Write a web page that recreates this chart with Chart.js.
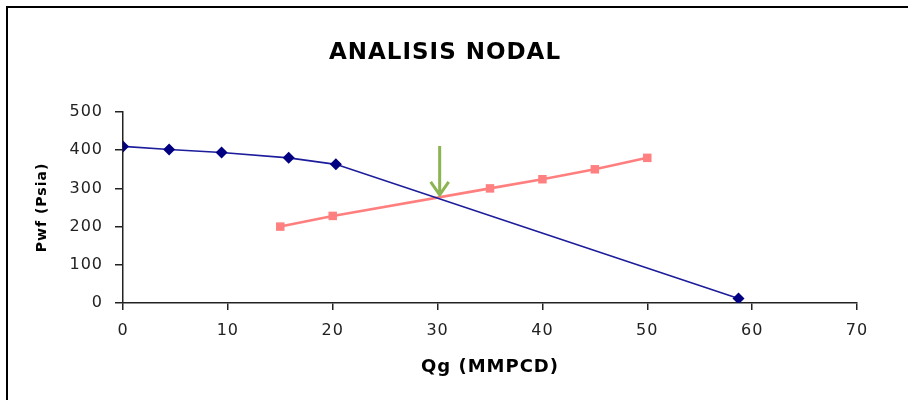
<!DOCTYPE html>
<html>
<head>
<meta charset="utf-8">
<script src="https://cdn.jsdelivr.net/npm/chart.js@4.4.0/dist/chart.umd.min.js"></script>
<style>
    html, body { margin: 0; padding: 0; background: #fff; }
    #wrap { position: relative; width: 908px; height: 400px; }
    #frame {
        position: absolute; left: 6px; top: 6px; right: -4px; bottom: -4px;
        border-top: 2px solid #000; border-left: 2px solid #000;
    }
    canvas { position: absolute; left: 0; top: 0; }
</style>
</head>
<body>
<div id="wrap">
    <div id="frame"></div>
    <canvas id="chart" width="908" height="400"></canvas>
</div>
<script>
// Curva IPR (pozo) - Qg en MMPCD, Pwf en psia
const iprQg  = [0, 4.4, 9.4, 15.8, 20.3, 58.7];
const iprPwf = [410, 402, 394, 380, 363, 12];

// Curva de la tuberia (outflow)
const tprQg  = [15, 20, 35, 40, 45, 50];
const tprPwf = [200, 228, 300, 324, 350, 380];

// Flecha que marca el punto de operacion
const arrowQg = 30.2;
const arrowPwfTop = 411;
const arrowPwfTip = 283;

const xTicks = [0, 10, 20, 30, 40, 50, 60, 70];
const yTicks = [0, 100, 200, 300, 400, 500];

const FONT = 'DejaVu Sans';

const toPoints = (xs, ys) => xs.map((x, i) => ({ x: x, y: ys[i] }));

// The old Excel picture has wide lettering, a little spacing helps
const spacingPlugin = {
    id: 'letterSpacing',
    beforeDraw(chart) { chart.ctx.letterSpacing = '1px'; },
    afterDraw(chart) { chart.ctx.letterSpacing = '0px'; }
};

// Draws the green arrow over the intersection, using the chart scales
const arrowPlugin = {
    id: 'operatingArrow',
    afterDatasetsDraw(chart) {
        const { ctx, scales } = chart;
        const x = scales.x.getPixelForValue(arrowQg);
        const y0 = scales.y.getPixelForValue(arrowPwfTop);
        const y1 = scales.y.getPixelForValue(arrowPwfTip);
        ctx.save();
        ctx.strokeStyle = '#8db353';
        ctx.lineWidth = 3;
        ctx.lineCap = 'butt';
        ctx.beginPath();
        ctx.moveTo(x, y0);
        ctx.lineTo(x, y1);
        ctx.moveTo(x - 9, y1 - 13);
        ctx.lineTo(x, y1);
        ctx.lineTo(x + 9, y1 - 13);
        ctx.stroke();
        ctx.restore();
    }
};

new Chart(document.getElementById('chart'), {
    type: 'scatter',
    data: {
        datasets: [
            {
                label: 'IPR',
                data: toPoints(iprQg, iprPwf),
                showLine: true,
                borderColor: '#1c1c9c',
                borderWidth: 1.6,
                pointStyle: 'rectRot',
                pointRadius: 6,
                pointBackgroundColor: '#000080',
                pointBorderColor: '#000080',
                pointBorderWidth: 0,
                tension: 0
            },
            {
                label: 'TPR',
                data: toPoints(tprQg, tprPwf),
                showLine: true,
                borderColor: '#ff7f7f',
                borderWidth: 2.6,
                pointStyle: 'rect',
                pointRadius: 6,
                pointBackgroundColor: '#ff8080',
                pointBorderColor: '#ff8080',
                pointBorderWidth: 0,
                tension: 0
            }
        ]
    },
    options: {
        responsive: false,
        animation: false,
        layout: { padding: { left: 0, right: 18, top: 0, bottom: 0 } },
        plugins: {
            legend: { display: false },
            tooltip: { enabled: false },
            title: {
                display: true,
                text: 'ANALISIS NODAL',
                color: '#000',
                font: { family: FONT, size: 23, weight: 'bold' },
                padding: { top: 39, bottom: 45.4 }
            }
        },
        scales: {
            x: {
                type: 'linear',
                min: 0,
                max: 70,
                afterBuildTicks: (scale) => { scale.ticks = xTicks.map(v => ({ value: v })); },
                afterFit: (scale) => { scale.height = 97; },
                grid: { drawOnChartArea: false, drawTicks: true, tickLength: 7, color: '#222', lineWidth: 1.5 },
                border: { display: true, color: '#222', width: 1.5 },
                ticks: { color: '#222', padding: 11, font: { family: FONT, size: 16 } },
                title: {
                    display: true,
                    text: 'Qg (MMPCD)',
                    color: '#000',
                    font: { family: FONT, size: 18, weight: 'bold' },
                    padding: { top: 0, bottom: 22 }
                }
            },
            y: {
                type: 'linear',
                min: 0,
                max: 500,
                afterBuildTicks: (scale) => { scale.ticks = yTicks.map(v => ({ value: v })); },
                afterFit: (scale) => { scale.width = 123; },
                grid: { drawOnChartArea: false, drawTicks: true, tickLength: 8, color: '#222', lineWidth: 1.5 },
                border: { display: true, color: '#222', width: 1.5 },
                ticks: { color: '#222', padding: 12, font: { family: FONT, size: 16 } },
                title: {
                    display: true,
                    text: 'Pwf (Psia)',
                    color: '#000',
                    font: { family: FONT, size: 14, weight: 'bold' },
                    padding: { top: 33.6, bottom: 0 }
                }
            },
            // empty right-hand spacer so the plot ends at 70 where the original does
            spacer: {
                type: 'linear',
                position: 'right',
                display: true,
                afterFit: (scale) => { scale.width = 33; },
                grid: { display: false },
                border: { display: false },
                ticks: { display: false }
            }
        }
    },
    plugins: [arrowPlugin, spacingPlugin]
});
</script>
</body>
</html>
